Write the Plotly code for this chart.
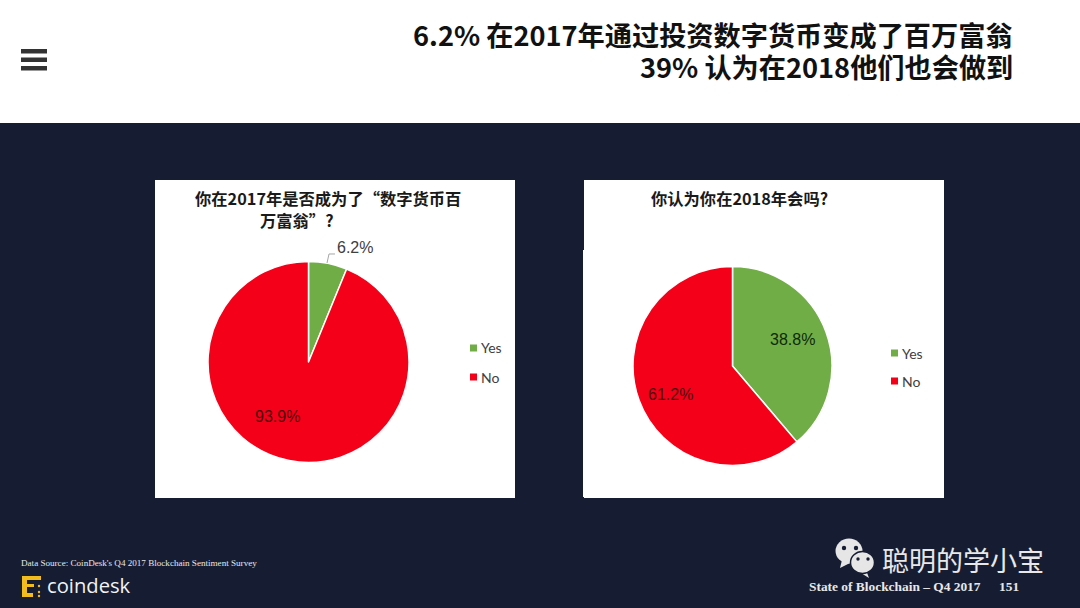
import plotly.graph_objects as go

W = 1080
H = 608

# chart data
labels = ['Yes', 'No']
values_2017 = [6.2, 93.9]
values_2018 = [38.8, 61.2]
colors = ['#70AD47', '#F40018']

NAVY = '#161D33'
CJK = 'Noto Sans CJK SC'


def px_x(x):
    return x / W


def px_y(y):
    return 1 - y / H


def rect(x0, y0, x1, y1, color):
    return dict(type='rect', xref='paper', yref='paper', x0=px_x(x0), x1=px_x(x1),
                y0=px_y(y0), y1=px_y(y1), fillcolor=color, line_width=0, layer='below')


def dot(cx, cy, rx, ry, color, line=None):
    return dict(type='circle', xref='paper', yref='paper', x0=px_x(cx - rx), x1=px_x(cx + rx),
                y0=px_y(cy + ry), y1=px_y(cy - ry), fillcolor=color,
                line=dict(color=line or color, width=1.5 if line else 0), layer='above')


def poly(points, fill=None, line=None, width=1):
    # paper coordinates, so the svg path is built by hand
    path = 'M' + ' L'.join(f'{px_x(x):.5f},{px_y(y):.5f}' for x, y in points)
    if fill:
        path += ' Z'
    return dict(type='path', xref='paper', yref='paper', path=path, fillcolor=fill or 'rgba(0,0,0,0)',
                line=dict(color=line or 'rgba(0,0,0,0)', width=width), layer='above')


def label(x, y, text, size, color='#000000', font='Liberation Sans', anchor='center'):
    return dict(xref='paper', yref='paper', x=px_x(x), y=px_y(y), text=text, showarrow=False,
                xanchor=anchor, yanchor='middle', font=dict(family=font, size=size, color=color))


def pie(values, cx, cy, r):
    return go.Pie(labels=labels, values=values, sort=False, direction='clockwise', rotation=0,
                  marker=dict(colors=colors, line=dict(color='#FFFFFF', width=1.5)),
                  textinfo='none', showlegend=False, hoverinfo='label+value',
                  domain=dict(x=[px_x(cx - r), px_x(cx + r)], y=[px_y(cy + r), px_y(cy - r)]))


fig = go.Figure()
fig.add_trace(pie(values_2017, 308.5, 362, 100.5))
fig.add_trace(pie(values_2018, 732.5, 366, 99.5))

shapes = [
    rect(0, 123, W, H, NAVY),
    # white chart panels
    rect(155, 180, 515, 498, '#FFFFFF'),
    rect(584, 180, 944, 498, '#FFFFFF'),
    rect(583, 250, 584, 497, '#FFFFFF'),
    # menu icon
    rect(21, 49, 47, 53.5, '#333333'),
    rect(21, 57.5, 47, 62, '#333333'),
    rect(21, 66, 47, 70.5, '#333333'),
    # leader line of the 6.2% label
    poly([(327, 263), (329, 254), (335, 254)], line='#A6A6A6', width=1),
]

# legends
for y, c in zip([348, 377], colors):
    shapes.append(rect(470, y - 3.5, 477, y + 3.5, c))
for y, c in zip([353, 381], colors):
    shapes.append(rect(891, y - 3.5, 898, y + 3.5, c))

# coindesk logo
YELLOW = '#F2BB1E'
shapes += [
    rect(22, 576, 41, 580, YELLOW),
    rect(22, 576, 27, 597, YELLOW),
    rect(22, 593, 33, 597, YELLOW),
    rect(27, 584, 34, 587, YELLOW),
    dot(39, 586, 1.2, 1.2, YELLOW),
    dot(39, 592, 1.2, 1.2, YELLOW),
    dot(39, 596, 1.2, 1.2, YELLOW),
]

# wechat icon
GREY = '#E6E6E6'
shapes += [
    poly([(842, 560), (840, 568), (850, 563)], fill=GREY),
    dot(849, 551, 13.5, 12.5, GREY),
    dot(844, 548, 2.2, 2.2, NAVY),
    dot(856, 548, 2.2, 2.2, NAVY),
    poly([(866, 570), (869, 578), (861, 573)], fill=GREY),
    dot(862.5, 562.5, 12, 11, GREY, line=NAVY),
    dot(858, 559, 1.7, 1.7, NAVY),
    dot(868, 559, 1.7, 1.7, NAVY),
]

annotations = [
    label(1015, 34, '<b>6.2% 在2017年通过投资数字货币变成了百万富翁</b>', 27.2, '#111111', CJK, 'right'),
    label(1015, 66, '<b>39% 认为在2018他们也会做到</b>', 27.2, '#111111', CJK, 'right'),
    label(327.5, 198, '<b>你在2017年是否成为了“数字货币百</b>', 16.3, '#1A1A1A', CJK),
    label(297, 220, '<b>万富翁”?</b>', 16.3, '#1A1A1A', CJK),
    label(739, 198, '<b>你认为你在2018年会吗?</b>', 16.3, '#1A1A1A', CJK),
    label(355, 247, f'{values_2017[0]}%', 16, '#404040'),
    label(277, 416, f'{values_2017[1]}%', 16, '#4A0510'),
    label(792, 339, f'{values_2018[0]}%', 16, '#0E2A05'),
    label(670, 394, f'{values_2018[1]}%', 16, '#4A0510'),
    label(479, 348, labels[0], 14, '#404040', 'Lato', 'left'),
    label(479, 377, labels[1], 14, '#404040', 'Lato', 'left'),
    label(900, 353, labels[0], 14, '#404040', 'Lato', 'left'),
    label(900, 381, labels[1], 14, '#404040', 'Lato', 'left'),
    label(19, 563, "Data Source: CoinDesk's Q4 2017 Blockchain Sentiment Survey", 9.1, '#E8E8E8',
          'Liberation Serif', 'left'),
    label(45, 585, 'coindesk', 20.2, '#F2F2F2', 'Open Sans', 'left'),
    label(880, 559, '聪明的学小宝', 27, '#E8E8E8', CJK, 'left'),
    label(807, 586, '<b>State of Blockchain – Q4 2017</b>', 13.4, '#E8E8E8', 'Liberation Serif', 'left'),
    label(997, 586, '<b>151</b>', 13.4, '#E8E8E8', 'Liberation Serif', 'left'),
]

fig.update_layout(width=W, height=H, margin=dict(l=0, r=0, t=0, b=0), paper_bgcolor='#FFFFFF',
                  shapes=shapes, annotations=annotations)

fig.write_html('out.html', config=dict(displayModeBar=False),
               post_script="document.body.style.margin='0';document.body.style.overflow='hidden';")
